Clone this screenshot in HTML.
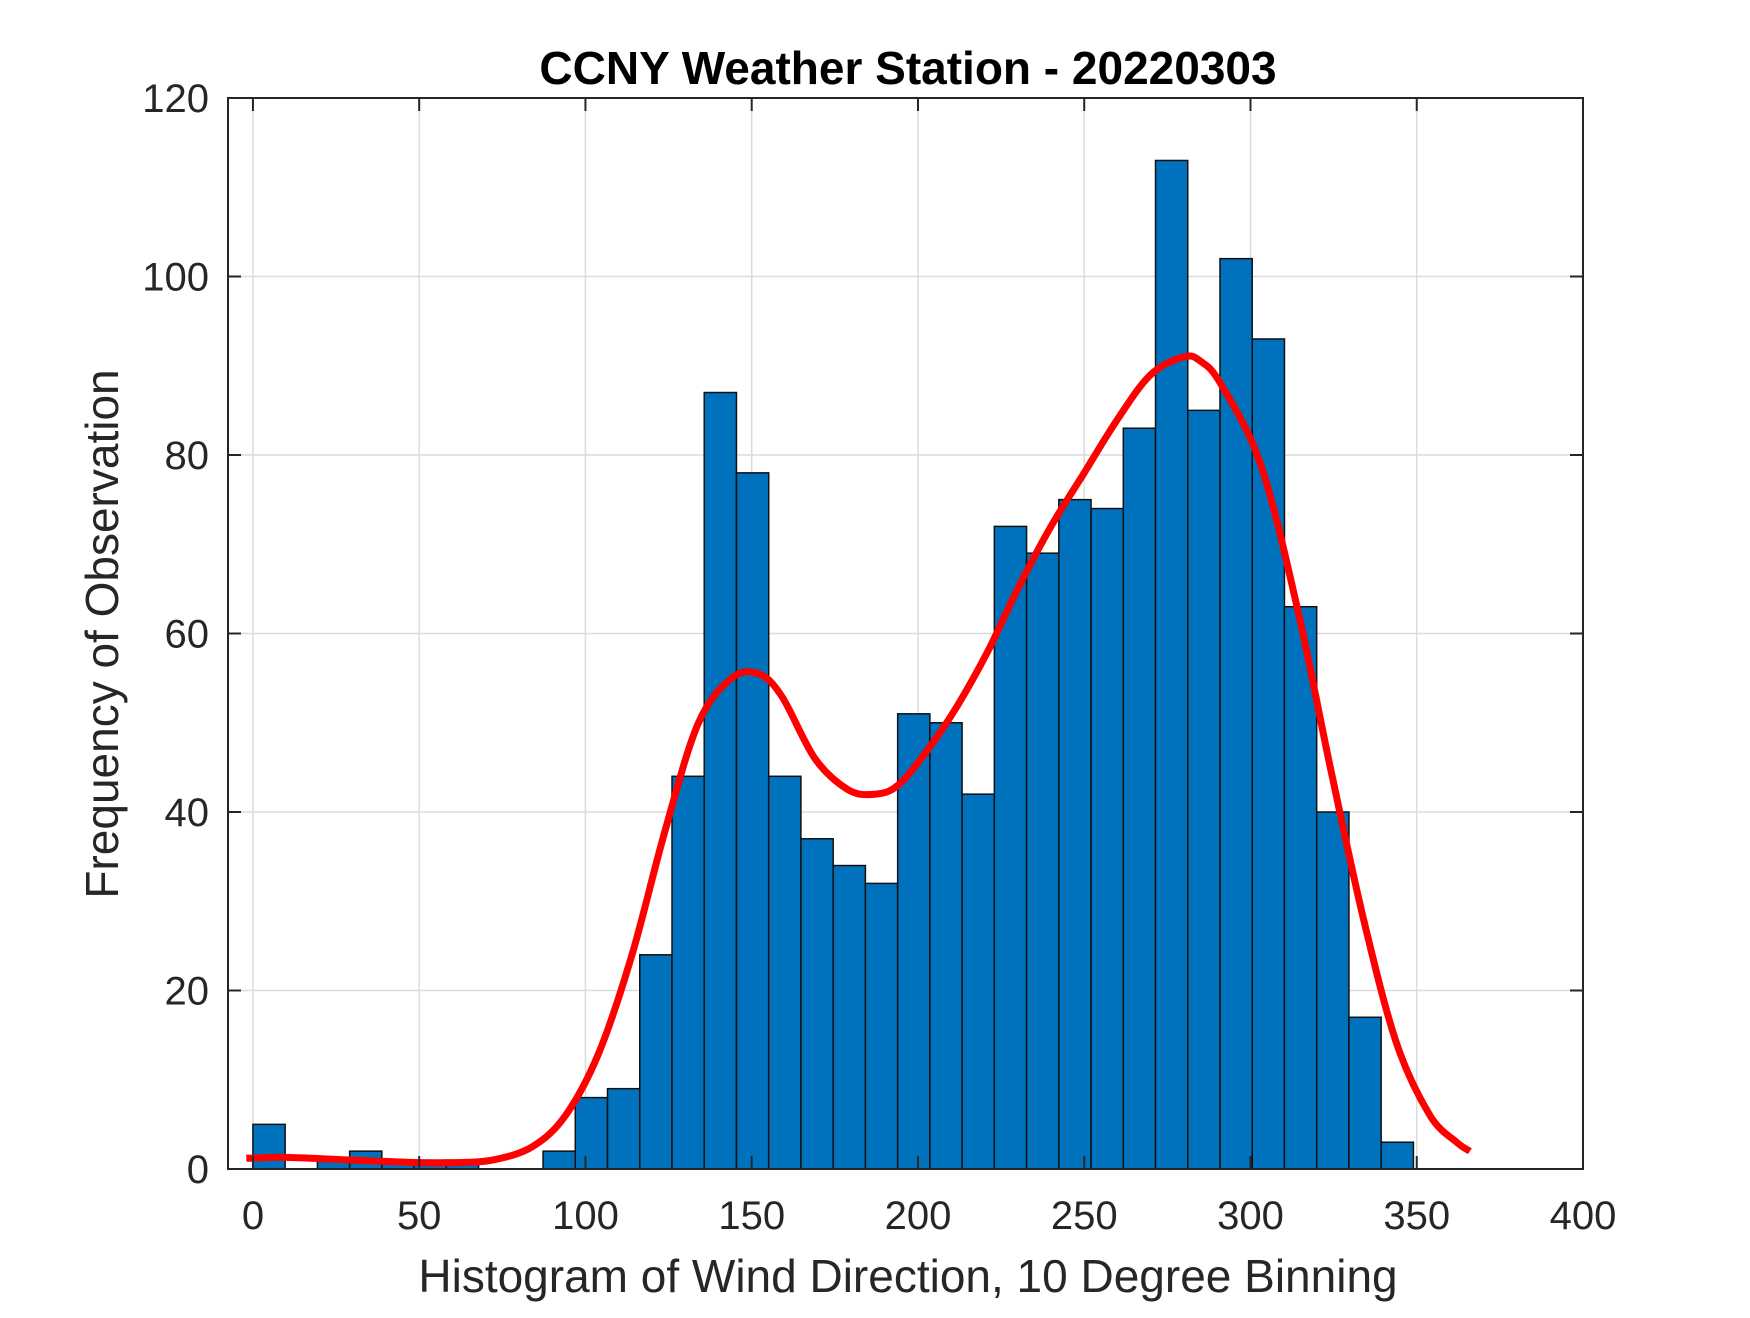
<!DOCTYPE html>
<html><head><meta charset="utf-8"><style>
html,body{margin:0;padding:0;background:#fff;}
svg text{font-family:"Liberation Sans",Arial,sans-serif;fill:#262626;}
</style></head>
<body>
<svg id="chart" width="1750" height="1313" viewBox="0 0 1750 1313" xmlns="http://www.w3.org/2000/svg">
<rect x="0" y="0" width="1750" height="1313" fill="#fff"/>
<g id="grid"></g>
<g id="bars"></g>
<g id="curve"></g>
<g id="axes"></g>
<text x="908" y="84" text-anchor="middle" font-size="46" font-weight="bold" style="fill:#000">CCNY Weather Station - 20220303</text>
<text x="908" y="1292" text-anchor="middle" font-size="46">Histogram of Wind Direction, 10 Degree Binning</text>
<text transform="translate(118,634) rotate(-90)" text-anchor="middle" font-size="46">Frequency of Observation</text>
</svg>
<script>
const binStarts = [0,9.69,19.39,29.08,38.78,48.47,58.17,67.86,77.56,87.25,96.94,106.64,116.33,126.03,135.72,145.42,155.11,164.81,174.5,184.19,193.89,203.58,213.28,222.97,232.67,242.36,252.06,261.75,271.44,281.14,290.83,300.53,310.22,319.92,329.61,339.31];
const counts = [5,0,1,2,1,1,1,0,0,2,8,9,24,44,87,78,44,37,34,32,51,50,42,72,69,75,74,83,113,85,102,93,63,40,17,3];
const binWidth = 9.69;
const curveX = [-2,10,30,50,60,72,84,94,104,114,124,134,144,152,159,169,179,187,194,203,212,221,230,240,250,260,270,280,285,291,303,314,324,334,344,354,362,366];
const curveY = [1.2,1.3,1.0,0.7,0.7,1.0,2.5,6,13,24,38,50,55,55.5,53,46,42.5,42,43,47,52,58,65,72,78,84,89,91,90.5,88,79,63,45,28,14,6,3,2];
const xTicks = [0,50,100,150,200,250,300,350,400];
const yTicks = [0,20,40,60,80,100,120];

const L=228,R=1583,T=98,B=1169,XMIN=-7.5,XMAX=400,YMIN=0,YMAX=120;
const sx=v=>L+(v-XMIN)/(XMAX-XMIN)*(R-L);
const sy=v=>B-(v-YMIN)/(YMAX-YMIN)*(B-T);
const NS='http://www.w3.org/2000/svg';
function mk(tag,attrs,parent){const e=document.createElementNS(NS,tag);for(const k in attrs)e.setAttribute(k,attrs[k]);parent.appendChild(e);return e;}
const grid=document.getElementById('grid'),bars=document.getElementById('bars'),curve=document.getElementById('curve'),axes=document.getElementById('axes');
xTicks.forEach(t=>{const l=mk('line',{x1:sx(t),x2:sx(t),y1:T,y2:B,stroke:'#dcdcdc','stroke-width':1.5},grid);

});
yTicks.forEach(t=>{const l=mk('line',{x1:L,x2:R,y1:sy(t),y2:sy(t),stroke:'#dcdcdc','stroke-width':1.5},grid);

});
binStarts.forEach((s,i)=>{const c=counts[i];if(c<=0)return;
const r=mk('rect',{x:sx(s),y:sy(c),width:sx(s+binWidth)-sx(s),height:sy(0)-sy(c),fill:'#0072bd',stroke:'#111','stroke-width':1.5},bars);

});
const pts=curveX.map((x,i)=>[sx(x),sy(curveY[i])]);
let d='M'+pts[0][0].toFixed(1)+','+pts[0][1].toFixed(1);
for(let i=0;i<pts.length-1;i++){const p0=pts[Math.max(0,i-1)],p1=pts[i],p2=pts[i+1],p3=pts[Math.min(pts.length-1,i+2)];
const c1=[p1[0]+(p2[0]-p0[0])/6,p1[1]+(p2[1]-p0[1])/6],c2=[p2[0]-(p3[0]-p1[0])/6,p2[1]-(p3[1]-p1[1])/6];
d+='C'+c1[0].toFixed(1)+','+c1[1].toFixed(1)+' '+c2[0].toFixed(1)+','+c2[1].toFixed(1)+' '+p2[0].toFixed(1)+','+p2[1].toFixed(1);}
const p=mk('path',{d:d,fill:'none',stroke:'#ff0000','stroke-width':7,'stroke-linejoin':'round'},curve);


const box=mk('rect',{x:L,y:T,width:R-L,height:B-T,fill:'none',stroke:'#262626','stroke-width':2},axes);


xTicks.forEach(t=>{const x=sx(t);
mk('line',{x1:x,x2:x,y1:B,y2:B-13,stroke:'#262626','stroke-width':2},axes);
mk('line',{x1:x,x2:x,y1:T,y2:T+13,stroke:'#262626','stroke-width':2},axes);
const tx=mk('text',{x:x,y:1229,'text-anchor':'middle','font-size':40},axes);tx.textContent=t;

});
yTicks.forEach(t=>{const y=sy(t);
mk('line',{x1:L,x2:L+13,y1:y,y2:y,stroke:'#262626','stroke-width':2},axes);
mk('line',{x1:R,x2:R-13,y1:y,y2:y,stroke:'#262626','stroke-width':2},axes);
const tx=mk('text',{x:209,y:y+14,'text-anchor':'end','font-size':40},axes);tx.textContent=t;

});
</script>
</body></html>
